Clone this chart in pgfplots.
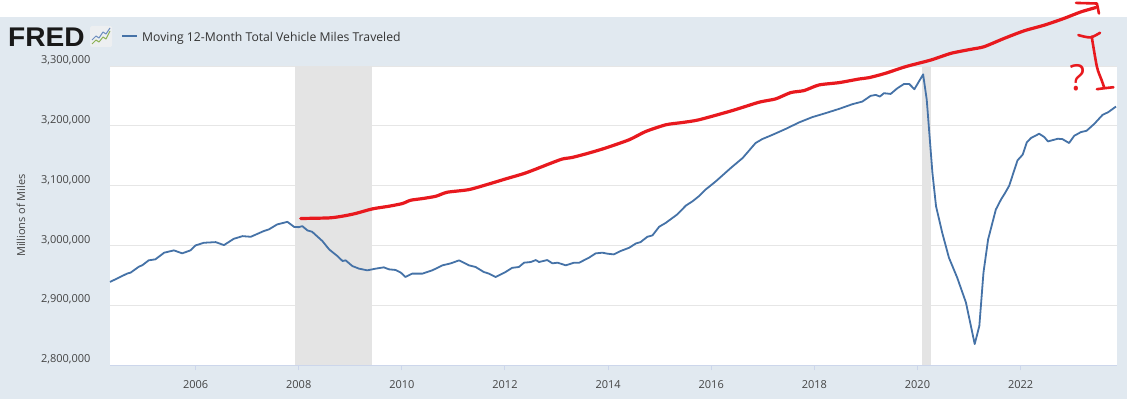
\documentclass[border=0pt]{standalone}
\usepackage{pgfplots}
\pgfplotsset{compat=1.18}
\usepackage{fontspec}
\setmainfont{Open Sans}
\newfontfamily\logofont{Liberation Sans}
\definecolor{fredbg}{HTML}{E1E9F0}
\definecolor{gridcol}{HTML}{E6E6E6}
\definecolor{reccol}{HTML}{E4E4E4}
\definecolor{axiscol}{HTML}{CCD6EB}
\definecolor{fredblue}{HTML}{4572A7}
\definecolor{penred}{HTML}{E8191E}
\definecolor{tickcol}{HTML}{444444}
\definecolor{legcol}{HTML}{333333}
\definecolor{iconbg}{HTML}{EDEFF1}
\definecolor{icongreen}{HTML}{8DB255}
\definecolor{iconblue}{HTML}{6F8FBF}
\begin{document}
\begin{tikzpicture}[x=1bp,y=1bp]
\useasboundingbox (0,0) rectangle (1127,399);
\fill[fredbg] (0,0) rectangle (1127,382);
\fill[white] (0,382) rectangle (1127,399);
\begin{axis}[
  at={(110bp,34bp)}, anchor=south west,
  scale only axis, width=1007bp, height=299bp,
  xmin=2004.34, xmax=2023.87, ymin=2800000, ymax=3300000,
  clip=false,
  axis background/.style={fill=white},
  axis x line*=bottom, axis y line*=left,
  x axis line style={draw=axiscol, line width=1bp, -},
  y axis line style={draw=none},
  xtick={2006,2008,2010,2012,2014,2016,2018,2020,2022},
  xticklabels={2006,2008,2010,2012,2014,2016,2018,2020,2022},
  ytick={2800000,2900000,3000000,3100000,3200000,3300000},
  scaled y ticks=false,
  yticklabel style={/pgf/number format/fixed, /pgf/number format/1000 sep={,}, /pgf/number format/assume math mode=true, xshift=-11bp, yshift=5.5bp},
  tick align=outside, major tick length=5bp,
  xtick style={draw=axiscol, line width=1bp},
  ytick style={draw=none},
  ymajorgrids, grid style={draw=gridcol, line width=1bp},
  every tick label/.append style={font=\fontsize{11bp}{13bp}\selectfont, text=tickcol},
  xticklabel style={yshift=-7bp},
  ylabel={Millions of Miles},
  ylabel style={font=\fontsize{11bp}{13bp}\selectfont, text=tickcol, at={(axis description cs:-0.0884,0.5)}, anchor=center},
]
% recessions
\addplot[fill=reccol, draw=none] coordinates {(2007.92,2800000) (2009.42,2800000) (2009.42,3300000) (2007.92,3300000)} -- cycle;
\addplot[fill=reccol, draw=none] coordinates {(2020.09,2800000) (2020.26,2800000) (2020.26,3300000) (2020.09,3300000)} -- cycle;
% series
\addplot[fredblue, line width=1.8bp, line join=round] coordinates {
(2004.34,2938900) (2004.51,2946000) (2004.675,2953000) (2004.74,2954500) (2004.90,2964400)
(2004.97,2967000) (2005.09,2975000) (2005.22,2976700) (2005.39,2987800) (2005.58,2991700)
(2005.74,2986700) (2005.90,2991700) (2006.00,3000000) (2006.16,3004400) (2006.39,3005500)
(2006.55,3000500) (2006.74,3011000) (2006.91,3015500) (2007.07,3014400) (2007.32,3023900)
(2007.42,3026700) (2007.58,3035000) (2007.78,3039400) (2007.91,3031000) (2008.00,3030500)
(2008.07,3032200) (2008.17,3025000) (2008.26,3022800) (2008.46,3007200) (2008.59,2993300)
(2008.75,2982200) (2008.85,2973900) (2008.91,2975000) (2009.04,2965500) (2009.17,2961100)
(2009.33,2958300) (2009.49,2961100) (2009.65,2963300) (2009.75,2960000) (2009.88,2958900)
(2009.98,2954500) (2010.07,2947200) (2010.20,2952800) (2010.40,2952800) (2010.59,2958300)
(2010.79,2966700) (2010.95,2970000) (2011.11,2975000) (2011.30,2966700) (2011.43,2963900)
(2011.59,2955500) (2011.69,2952800) (2011.82,2947200) (2011.95,2952800) (2012.01,2955500)
(2012.14,2962500) (2012.27,2963900) (2012.37,2971100) (2012.50,2972200) (2012.60,2975500)
(2012.66,2972200) (2012.82,2975500) (2012.92,2970000) (2013.02,2971100) (2013.18,2966700)
(2013.34,2971100) (2013.44,2971100) (2013.63,2979500) (2013.76,2986700) (2013.89,2987800)
(2013.99,2986100) (2014.11,2985000) (2014.24,2990500) (2014.41,2996100) (2014.54,3003300)
(2014.63,3005500) (2014.76,3014400) (2014.86,3016700) (2014.99,3031100) (2015.12,3037800)
(2015.34,3051700) (2015.51,3066700) (2015.64,3073900) (2015.76,3082200) (2015.89,3093300)
(2016.09,3107200) (2016.38,3129500) (2016.61,3146200) (2016.86,3171200) (2016.99,3177800)
(2017.19,3185000) (2017.45,3195000) (2017.70,3205500) (2017.96,3214500) (2018.22,3221200)
(2018.48,3228300) (2018.74,3236200) (2018.93,3240500) (2019.09,3250000) (2019.19,3251700)
(2019.27,3248900) (2019.35,3254500) (2019.48,3253300) (2019.61,3262800) (2019.74,3270000)
(2019.84,3270000) (2019.94,3261200) (2020.11,3286000) (2020.18,3243300) (2020.29,3121200)
(2020.36,3065500) (2020.48,3021200) (2020.61,2979500) (2020.77,2946200) (2020.94,2904500)
(2021.11,2835000) (2021.20,2865500) (2021.28,2954500) (2021.37,3010000) (2021.52,3060000)
(2021.62,3076700) (2021.70,3087800) (2021.78,3100000) (2021.87,3123900) (2021.94,3142200)
(2022.04,3151700) (2022.12,3172200) (2022.20,3179500) (2022.36,3186700) (2022.46,3181200)
(2022.53,3173900) (2022.72,3178300) (2022.81,3177800) (2022.94,3171200) (2023.04,3183300)
(2023.17,3189500) (2023.28,3191700) (2023.43,3203300) (2023.59,3218300) (2023.70,3222800)
(2023.85,3232200)
};
% hand-drawn red annotation
\addplot[penred, line width=3.2bp, line cap=round, line join=round, smooth, tension=0.4] coordinates {
(2008.04,3045000) (2008.59,3046000) (2008.85,3048900) (2009.10,3053300) (2009.43,3061100)
(2009.75,3065500) (2010.01,3070000) (2010.17,3075500) (2010.40,3078300) (2010.66,3082200)
(2010.88,3088900) (2011.30,3093300) (2011.70,3103000) (2012.01,3111100) (2012.40,3121100)
(2012.85,3136100) (2013.11,3144400) (2013.31,3147200) (2013.63,3154500) (2013.95,3162800)
(2014.41,3176700) (2014.73,3190500) (2015.12,3201700) (2015.44,3205500) (2015.76,3210000)
(2016.41,3225500) (2016.93,3239500) (2017.25,3245000) (2017.54,3255500) (2017.80,3258900)
(2018.09,3268300) (2018.48,3272200) (2018.87,3278300) (2019.06,3280500) (2019.38,3287800)
(2019.77,3298900) (2020.26,3310000) (2020.65,3321200) (2021.03,3327800) (2021.29,3332200)
(2021.68,3346100) (2022.07,3358900) (2022.46,3368300) (2022.84,3379500) (2023.17,3390500)
(2023.46,3397800)
};
\addplot[penred, line width=2.6bp, line cap=round, line join=round] coordinates {
(2023.075,3405500) (2023.48,3404500) (2023.52,3387800)};
\addplot[penred, line width=2.6bp, line cap=round, line join=round, smooth] coordinates {
(2023.12,3351700) (2023.35,3347800) (2023.54,3355500)};
\addplot[penred, line width=2.6bp, line cap=round, line join=round, smooth] coordinates {
(2023.38,3348800) (2023.48,3298800) (2023.57,3276700) (2023.62,3264500)};
\addplot[penred, line width=2.6bp, line cap=round, line join=round, smooth] coordinates {
(2023.48,3261200) (2023.62,3262800) (2023.80,3264500)};
\node[text=penred, font=\fontsize{36bp}{38bp}\selectfont, inner sep=0] at (axis cs:2023.10,3280000) {?};
\end{axis}
% header: logo and legend
\node[anchor=base west, inner sep=0, font=\logofont\bfseries\fontsize{27bp}{30bp}\selectfont, text=black!90, xscale=1.04] at (8,353) {FRED};
\fill[iconbg, rounded corners=1.5bp] (90,352) rectangle (112,373);
\draw[icongreen, line width=1bp, line join=round] (92,355)--(96,359)--(99,357)--(103,362)--(106,360)--(110,368);
\draw[iconblue, line width=1bp, line join=round] (92,359)--(96,363)--(99,361)--(103,367)--(106,365)--(110,371);
\draw[fredblue, line width=2bp] (122,363) -- (137,363);
\node[anchor=base west, inner sep=0, font=\fontsize{12.2bp}{14bp}\selectfont, text=legcol] at (142,358) {Moving 12-Month Total Vehicle Miles Traveled};
\end{tikzpicture}
\end{document}
